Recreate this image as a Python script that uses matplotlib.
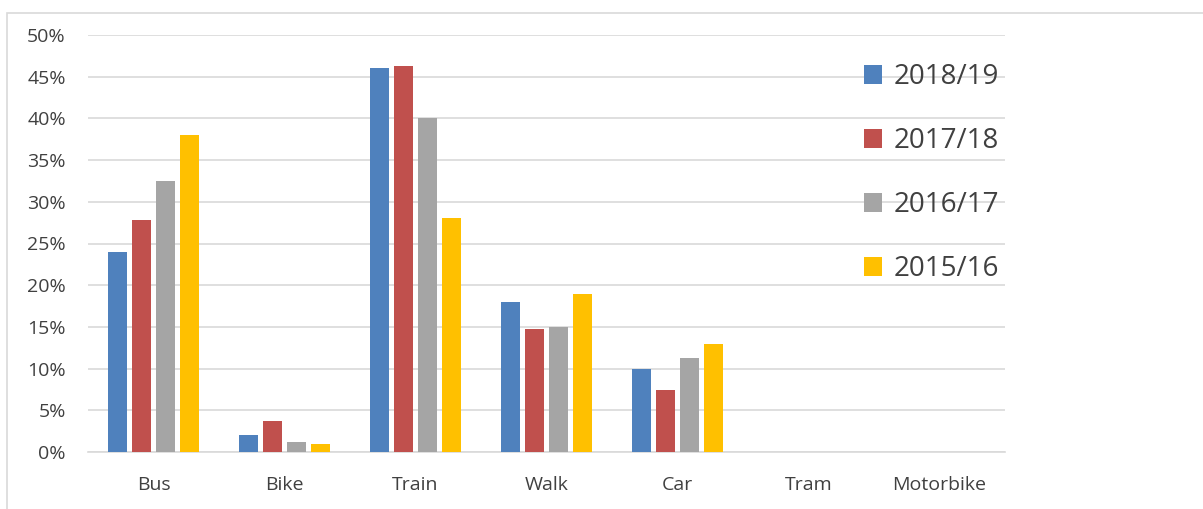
import matplotlib
matplotlib.use("Agg")
import matplotlib.pyplot as plt
from matplotlib.patches import Rectangle
import numpy as np

categories = ["Bus", "Bike", "Train", "Walk", "Car", "Tram", "Motorbike"]
series_names = ["2018/19", "2017/18", "2016/17", "2015/16"]
v_2018_19 = [24.0, 2.0, 46.0, 18.0, 10.0, 0, 0]
v_2017_18 = [27.8, 3.7, 46.3, 14.8, 7.4, 0, 0]
v_2016_17 = [32.5, 1.2, 40.0, 15.0, 11.3, 0, 0]
v_2015_16 = [38.0, 1.0, 28.0, 19.0, 13.0, 0, 0]
yticks = [0, 5, 10, 15, 20, 25, 30, 35, 40, 45, 50]
colors = ["#4f81bd", "#c0504d", "#a5a5a5", "#ffc000"]

plt.rcParams['font.family'] = ['Open Sans', 'DejaVu Sans']
fig = plt.figure(figsize=(12.03, 5.09), dpi=100)
W, H = 1203, 509
ax = fig.add_axes([88 / W, 57 / H, 917 / W, 417 / H])

# outer chart frame
fig.patches.append(Rectangle((7 / W, -0.1), 1.2, (509 - 13) / H + 0.1,
                             transform=fig.transFigure, fill=False,
                             edgecolor="#d9d9d9", linewidth=1.2))

x = np.arange(len(categories))
step = 0.183
bw = 0.143
data = [v_2018_19, v_2017_18, v_2016_17, v_2015_16]
for i, (vals, name, c) in enumerate(zip(data, series_names, colors)):
    ax.bar(x + (i - 1.5) * step, vals, width=bw, color=c, label=name, zorder=3)

ax.set_xlim(-0.5, len(categories) - 0.5)
ax.set_ylim(0, 50)
ax.set_yticks(yticks)
ax.set_yticklabels([f"{t}%" for t in yticks])
ax.set_xticks(x)
ax.set_xticklabels(categories)
ax.grid(axis="y", color="#d9d9d9", linewidth=1.2, zorder=0)
for s in ["left", "right", "top"]:
    ax.spines[s].set_visible(False)
ax.spines["bottom"].set_color("#d9d9d9")
ax.spines["bottom"].set_linewidth(1.2)
ax.tick_params(axis="both", length=0, labelsize=14, colors="#404040")
ax.tick_params(axis="x", pad=17)
ax.tick_params(axis="y", pad=16)

leg = ax.legend(loc="upper left", bbox_to_anchor=(853 / W, (509 - 52) / H),
                bbox_transform=fig.transFigure, frameon=False,
                fontsize=20, handlelength=0.65, handleheight=0.65,
                handletextpad=0.4, labelspacing=1.3, borderaxespad=0)
for t in leg.get_texts():
    t.set_color("#404040")

fig.savefig("out.png", dpi=100)
